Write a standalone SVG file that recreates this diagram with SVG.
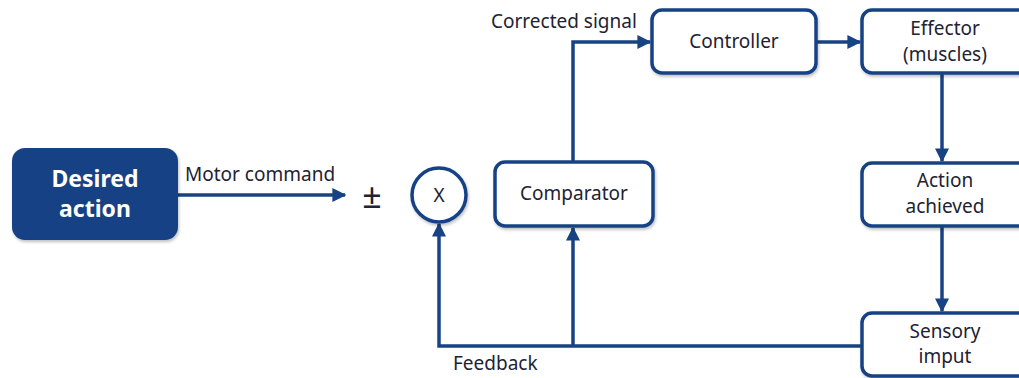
<svg xmlns="http://www.w3.org/2000/svg" width="1019" height="378" viewBox="0 0 1019 378">
  <defs>
    <marker id="arrow" viewBox="0 0 10 10" refX="9" refY="5" markerWidth="4" markerHeight="4" markerUnits="strokeWidth" orient="auto">
      <path d="M0,0 L10,5 L0,10 z" fill="#174385"/>
    </marker>
    <filter id="shadow" x="-10%" y="-10%" width="120%" height="130%">
      <feDropShadow dx="1" dy="2" stdDeviation="1.5" flood-color="#000" flood-opacity="0.25"/>
    </filter>
  </defs>
  <style>
    .box { fill: #ffffff; stroke: #174385; stroke-width: 3.5; filter: url(#shadow); }
    .main { fill: #174385; filter: url(#shadow); }
    .lbl { font-family: "Noto Sans", "Open Sans", sans-serif; font-size: 19px; fill: #222233; text-anchor: middle; }
    .edge { font-family: "Noto Sans", "Open Sans", sans-serif; font-size: 19px; fill: #222233; }
    .bold { font-family: "Noto Sans", "Open Sans", sans-serif; font-size: 23px; font-weight: bold; fill: #ffffff; text-anchor: middle; }
    .wire { fill: none; stroke: #174385; stroke-width: 3.5; }
  </style>
  <rect width="1019" height="378" fill="#ffffff"/>

  <g id="connectors">
    <path class="wire" d="M178,195 H345" marker-end="url(#arrow)"/>
    <path class="wire" d="M573,162 V42 H650" marker-end="url(#arrow)"/>
    <path class="wire" d="M816,42 H860" marker-end="url(#arrow)"/>
    <path class="wire" d="M942,73 V161" marker-end="url(#arrow)"/>
    <path class="wire" d="M942,226 V311" marker-end="url(#arrow)"/>
    <path class="wire" d="M862,346 H439 V224" marker-end="url(#arrow)"/>
    <path class="wire" d="M573,346 V228" marker-end="url(#arrow)"/>
    <text class="edge" x="185" y="181">Motor command</text>
    <text class="edge" x="491" y="28">Corrected signal</text>
    <text class="edge" x="453" y="370">Feedback</text>
  </g>

  <g id="desired-action">
    <rect class="main" x="12" y="148" width="166" height="92" rx="13"/>
    <text class="bold" x="95" y="187">Desired</text>
    <text class="bold" x="95" y="217">action</text>
  </g>

  <g id="plus-minus">
    <text class="lbl" x="372" y="208" style="font-size:34px">±</text>
  </g>

  <g id="multiplier">
    <circle cx="439" cy="195" r="27" fill="#ffffff" stroke="#174385" stroke-width="3.5" filter="url(#shadow)"/>
    <text class="lbl" x="439" y="202">X</text>
  </g>

  <g id="comparator">
    <rect class="box" x="495" y="162" width="158" height="64" rx="10"/>
    <text class="lbl" x="574" y="200">Comparator</text>
  </g>

  <g id="controller">
    <rect class="box" x="652" y="10" width="164" height="63" rx="10"/>
    <text class="lbl" x="734" y="48">Controller</text>
  </g>

  <g id="effector">
    <rect class="box" x="862" y="10" width="170" height="63" rx="10"/>
    <text class="lbl" x="945" y="35">Effector</text>
    <text class="lbl" x="945" y="61">(muscles)</text>
  </g>

  <g id="action-achieved">
    <rect class="box" x="862" y="163" width="170" height="63" rx="10"/>
    <text class="lbl" x="945" y="187">Action</text>
    <text class="lbl" x="945" y="213">achieved</text>
  </g>

  <g id="sensory-input">
    <rect class="box" x="862" y="313" width="170" height="63" rx="10"/>
    <text class="lbl" x="945" y="338">Sensory</text>
    <text class="lbl" x="945" y="363">imput</text>
  </g>
</svg>
